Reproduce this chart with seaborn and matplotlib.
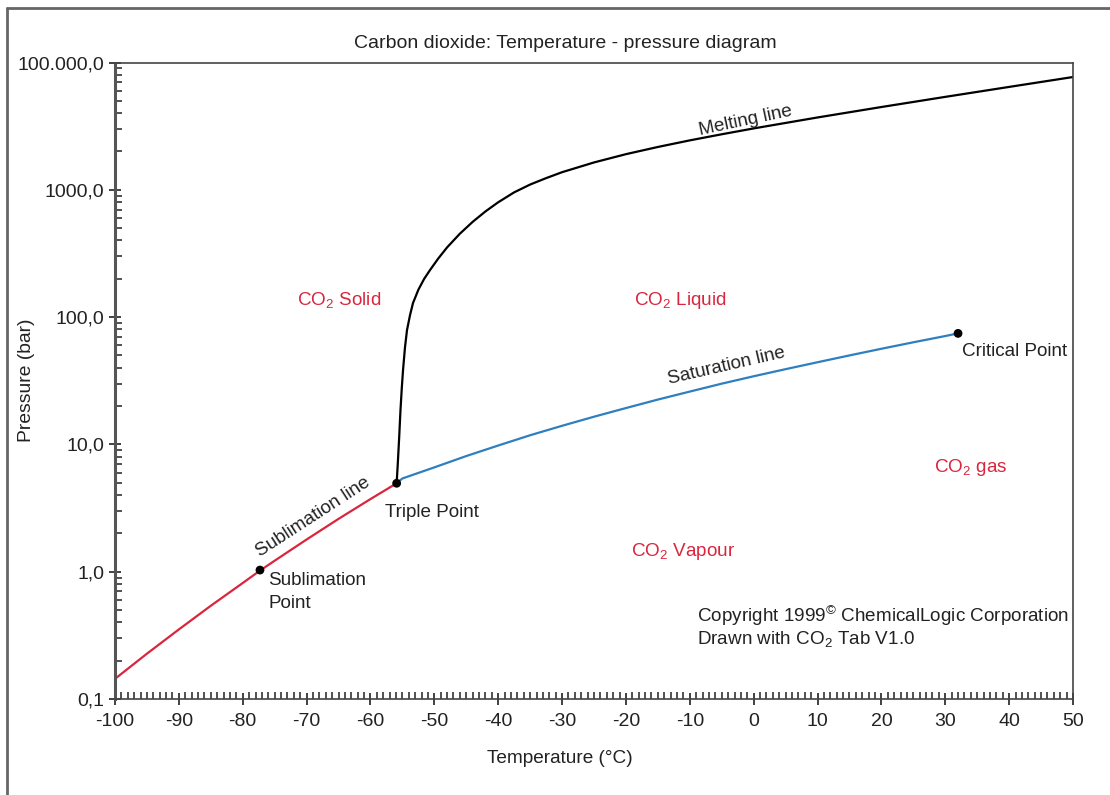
import numpy as np
import pandas as pd
import seaborn as sns
import matplotlib
matplotlib.use("Agg")
import matplotlib.pyplot as plt
from matplotlib.ticker import MultipleLocator, LogLocator, NullFormatter, FixedLocator, FixedFormatter
from matplotlib.lines import Line2D

# ---------------- data ----------------
sub_T = [-100, -95, -90, -85, -80, -77.3, -75, -70, -65, -60, -55.9]
sub_P = [0.144, 0.227, 0.352, 0.54, 0.815, 1.02, 1.22, 1.79, 2.6, 3.72, 4.95]

sat_T = [-55.9, -55, -50, -45, -40, -35, -30, -25, -20, -15, -10, -5, 0, 5, 10, 15, 20, 25, 30, 32.0]
sat_P = [4.95, 5.4, 6.6, 8.1, 9.8, 11.8, 14.0, 16.5, 19.3, 22.5, 26.0, 30.0, 34.3, 39.0, 44.2, 50.0, 56.4, 63.4, 71.0, 74.5]

mel_T = [-55.9, -55.7, -55.5, -55.3, -55.1, -54.9, -54.6, -54.28, -53.8, -53.34, -52.5, -51.6,
         -50.68, -49.4, -48.0, -46.0, -44.0, -42.0, -40.0, -37.5, -35.0, -32.5, -30.0, -25.0,
         -20.0, -15.0, -10.0, -5.0, 0, 10, 20, 30, 40, 50]
mel_P = [4.95, 7.4, 11.5, 18.6, 27.5, 38.4, 57.5, 79, 104, 129, 164, 199.5,
         234, 288, 353, 452, 560, 676, 798, 955, 1100, 1235, 1375, 1640,
         1905, 2170, 2445, 2730, 3035, 3700, 4470, 5370, 6430, 7690]

point_names = ["Sublimation Point", "Triple Point", "Critical Point"]
point_T = [-77.3, -55.9, 32.0]
point_P = [1.03, 4.95, 74.5]

xtick_vals = list(range(-100, 51, 10))
xtick_labels = [str(v) for v in xtick_vals]
ytick_vals = [0.1, 1, 10, 100, 1000, 10000]
ytick_labels = ["0,1", "1,0", "10,0", "100,0", "1000,0", "100.000,0"]

region_labels = [r"CO$_2$ Solid", r"CO$_2$ Liquid", r"CO$_2$ gas", r"CO$_2$ Vapour"]
region_T = [-64.9, -11.5, 34.0, -11.1]
region_P = [136, 136, 6.53, 1.45]

# ---------------- style ----------------
sns.set_style("ticks")
plt.rcParams["font.family"] = ["Liberation Sans", "DejaVu Sans"]
plt.rcParams["mathtext.fontset"] = "custom"
plt.rcParams["mathtext.rm"] = "Liberation Sans"
plt.rcParams["mathtext.it"] = "Liberation Sans:italic"
plt.rcParams["mathtext.bf"] = "Liberation Sans:bold"
plt.rcParams["axes.unicode_minus"] = False

RED = "#d9263e"
BLUE = "#2e7fbf"
TXT = "#222222"
FS = 13.6

df = pd.concat([
    pd.DataFrame({"T": sub_T, "P": sub_P, "line": "Sublimation line"}),
    pd.DataFrame({"T": sat_T, "P": sat_P, "line": "Saturation line"}),
    pd.DataFrame({"T": mel_T, "P": mel_P, "line": "Melting line"}),
], ignore_index=True)

fig = plt.figure(figsize=(11.1, 7.95), dpi=100)
W, H = 1110, 795
ax = fig.add_axes([115 / W, 1 - 699 / H, 958 / W, 636.5 / H])

sns.lineplot(data=df, x="T", y="P", hue="line",
             palette={"Sublimation line": RED, "Saturation line": BLUE, "Melting line": "black"},
             sort=False, estimator=None, legend=False, linewidth=1.6, ax=ax)
sns.scatterplot(x=point_T, y=point_P, color="black", s=40, edgecolor="none", zorder=5, ax=ax)

ax.set_yscale("log")
ax.set_xlim(-100, 50)
ax.set_ylim(0.1, 10000)

ax.xaxis.set_major_locator(FixedLocator(xtick_vals))
ax.xaxis.set_major_formatter(FixedFormatter(xtick_labels))
ax.xaxis.set_minor_locator(MultipleLocator(1))
ax.yaxis.set_major_locator(FixedLocator(ytick_vals))
ax.yaxis.set_major_formatter(FixedFormatter(ytick_labels))
ax.yaxis.set_minor_locator(LogLocator(base=10, subs=np.arange(2, 10)))
ax.yaxis.set_minor_formatter(NullFormatter())

ax.tick_params(which="major", direction="inout", length=9, width=1.3, color="#333333",
               labelsize=14, labelcolor=TXT)
ax.tick_params(which="minor", direction="in", length=5, width=1.2, color="#333333")
ax.tick_params(axis="x", which="major", pad=5.5)
ax.tick_params(axis="y", which="major", pad=3)

for s in ["top", "right", "bottom"]:
    ax.spines[s].set_linewidth(1.2)
    ax.spines[s].set_color("#444444")
ax.spines["left"].set_linewidth(2.2)
ax.spines["left"].set_color("#555555")

ax.set_xlabel("Temperature (°C)", fontsize=13.7, color=TXT)
ax.set_ylabel("Pressure (bar)", fontsize=13.9, color=TXT)
ax.xaxis.set_label_coords(0.4645, -0.080)
ax.yaxis.set_label_coords(-0.0835, 0.5)

fig.text(565 / W, 1 - 43 / H, "Carbon dioxide: Temperature - pressure diagram",
         ha="center", va="center", fontsize=14, color=TXT)

# region labels
for lab, t, p in zip(region_labels, region_T, region_P):
    ax.text(t, p, lab, color=RED, fontsize=FS, ha="center", va="center")

# line labels
ax.text(-1.2, 3470, "Melting line", rotation=12, fontsize=FS, color=TXT, ha="center", va="center",
        rotation_mode="anchor")
ax.text(-4.2, 41.3, "Saturation line", rotation=13, fontsize=FS, color=TXT, ha="center", va="center",
        rotation_mode="anchor")
ax.text(-69.0, 2.69, "Sublimation line", rotation=33, fontsize=FS, color=TXT, ha="center", va="center",
        rotation_mode="anchor")

# point labels
ax.text(32.6, 53.2, point_names[2], fontsize=FS, color=TXT, ha="left", va="center")
ax.text(-57.7, 2.94, point_names[1], fontsize=FS, color=TXT, ha="left", va="center")
ax.text(-76.0, 0.693, "Sublimation\nPoint", fontsize=FS, color=TXT, ha="left", va="center",
        linespacing=1.4)

# copyright
ax.text(0.6075, 0.1304, r"Copyright 1999$^{©}$ ChemicalLogic Corporation", transform=ax.transAxes,
        fontsize=FS, color=TXT, ha="left", va="center")
ax.text(0.6075, 0.0943, r"Drawn with CO$_2$ Tab V1.0", transform=ax.transAxes,
        fontsize=FS, color=TXT, ha="left", va="center")

# outer frame (top and left edges visible)
fig.add_artist(Line2D([7 / W, 7 / W], [0, 1 - 8 / H], transform=fig.transFigure, color="#666666", lw=2))
fig.add_artist(Line2D([7 / W, 1.01], [1 - 8 / H, 1 - 8 / H], transform=fig.transFigure, color="#666666", lw=2))

fig.savefig("out.png", dpi=100)
